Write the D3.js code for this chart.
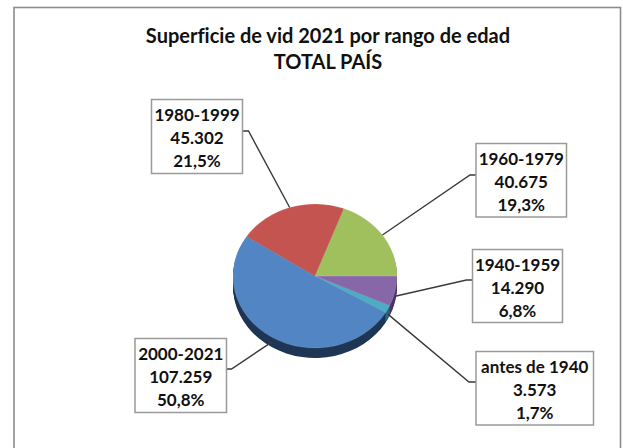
<!DOCTYPE html>
<html><head><meta charset="utf-8">
<script src="https://cdn.jsdelivr.net/npm/d3@7"></script>
<style>html,body{margin:0;background:#fff}svg{display:block}text{font-family:Lato,"Open Sans",sans-serif;font-variant-ligatures:none}</style>
</head><body><div id="c"></div>
<script>
const categories=["1940-1959","antes de 1940","2000-2021","1980-1999","1960-1979"];
const values=[14290,3573,107259,45302,40675];
const valueLabels=["14.290","3.573","107.259","45.302","40.675"];
const percentLabels=["6,8%","1,7%","50,8%","21,5%","19,3%"];
const colors=["#8767a8","#4bacc6","#5285c4","#c4544f","#a0c05e"];
const sideColors=["#4a3560","#27687a","#1f3656","#6e2a28","#5a6e30"];
const titleLines=["Superficie de vid 2021 por rango de edad","TOTAL PAÍS"];
const boxes=[
 {x:472.5,y:249.5,w:90,h:73,ly:280,kx:-6},
 {x:476,y:351.5,w:117.5,h:73.5,ly:382,kx:-7},
 {x:135,y:338.5,w:91.5,h:74,ly:369,kx:5},
 {x:151.5,y:99.5,w:91,h:74,ly:131,kx:6},
 {x:476,y:143.5,w:90.5,h:73.5,ly:175,kx:-6}
];
const W=623,H=448,cx=315,cy=276,rx=82,ry=72,depth=10;
const svg=d3.select("#c").append("svg").attr("width",W).attr("height",H);
svg.append("rect").attr("x",14).attr("y",7.5).attr("width",606.5).attr("height",H+4).attr("fill","#fff").attr("stroke","#8c8c8c").attr("stroke-width",1.6);
const t=svg.append("text").attr("text-anchor","middle").attr("font-size",20).attr("font-weight",700).attr("fill","#111");
titleLines.forEach((s,i)=>t.append("tspan").attr("x",328).attr("y",43+i*26.3).text(s));
const pie=d3.pie().sort(null).startAngle(Math.PI/2).endAngle(Math.PI*2.5)(values);
const arc=d3.arc().innerRadius(0).outerRadius(rx);
const ky=ry/rx;
const side=svg.append("g");
d3.range(depth,0,-1).forEach(d=>{
 side.append("g").attr("transform",`translate(${cx},${cy+d}) scale(1,${ky})`)
  .selectAll("path").data(pie).join("path").attr("d",arc).attr("fill",(d,i)=>sideColors[i]);
});
svg.append("g").attr("transform",`translate(${cx},${cy}) scale(1,${ky})`)
 .selectAll("path").data(pie).join("path").attr("d",arc).attr("fill",(d,i)=>colors[i])
 .attr("stroke","#fff").attr("stroke-opacity",.25).attr("stroke-width",.5);
const leaders=svg.append("g");
pie.forEach((p,i)=>{
 const a=(p.startAngle+p.endAngle)/2-Math.PI/2, b=boxes[i];
 const px=cx+rx*Math.cos(a), py=cy+ry*Math.sin(a)+(Math.sin(a)>0.2?depth*.5:0);
 const ex=b.kx<0?b.x:b.x+b.w;
 leaders.append("polyline").attr("fill","none").attr("stroke","#3a3a3a").attr("stroke-width",1.4)
  .attr("points",[[px,py],[ex+b.kx,b.ly],[ex,b.ly]].map(q=>q.join(",")).join(" "));
});
boxes.forEach((b,i)=>{
 const g=svg.append("g");
 g.append("rect").attr("x",b.x).attr("y",b.y).attr("width",b.w).attr("height",b.h).attr("fill","#fff").attr("stroke","#9a9a9a").attr("stroke-width",1.5);
 [categories[i],valueLabels[i],percentLabels[i]].forEach((s,j)=>g.append("text").attr("x",b.x+b.w/2).attr("y",b.y+21.5+j*23.2).attr("text-anchor","middle").attr("font-size",17).attr("font-weight",700).attr("fill","#111").text(s));
});
</script></body></html>
